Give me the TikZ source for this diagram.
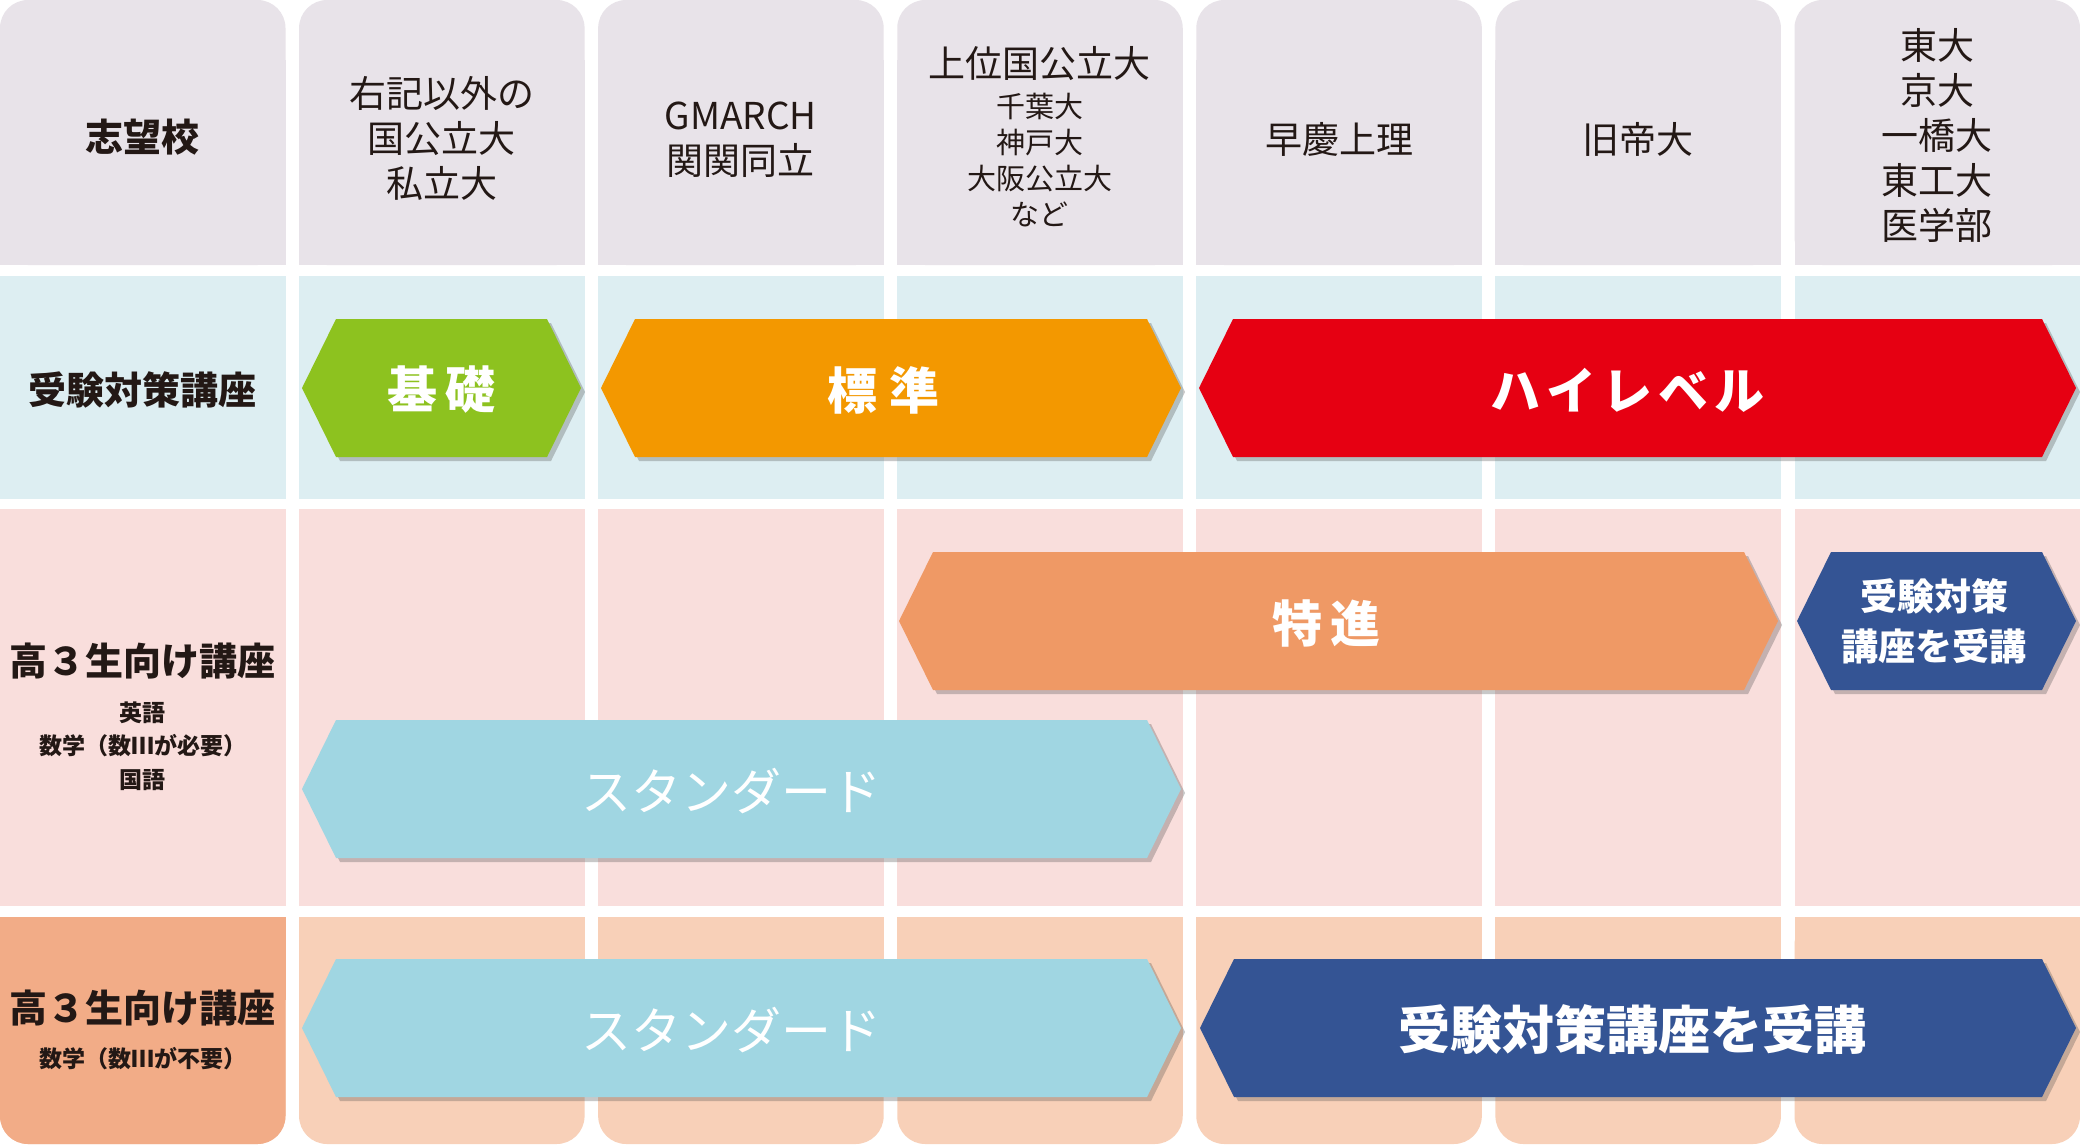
\documentclass[tikz,border=0pt]{standalone}
\usepackage{fontspec}
\setmainfont{Noto Sans CJK JP}
\usetikzlibrary{shadows}
\definecolor{hdr}{HTML}{E8E3E9}
\definecolor{rowB}{HTML}{DDEEF2}
\definecolor{rowP}{HTML}{F9DEDC}
\definecolor{rowO}{HTML}{F8D0B8}
\definecolor{rowOd}{HTML}{F2AC87}
\definecolor{ink}{HTML}{231815}
\definecolor{cGreen}{HTML}{8DC21F}
\definecolor{cOrange}{HTML}{F39800}
\definecolor{cRed}{HTML}{E60012}
\definecolor{cSalmon}{HTML}{EF9965}
\definecolor{cNavy}{HTML}{345494}
\definecolor{cSky}{HTML}{A0D6E2}
\newcommand\hexa[4]{%
  \fill[#4, hexshadow] (#1,#3) -- ({#1+34},{#3-69}) -- ({#2-34},{#3-69}) -- (#2,#3)
    -- ({#2-34},{#3+69}) -- ({#1+34},{#3+69}) -- cycle;}
\begin{document}
\begin{tikzpicture}[x=1pt,y=-1pt,
  hexshadow/.style={drop shadow={shadow xshift=4pt,shadow yshift=-4pt,opacity=0.3,fill=black!70}},
  hdrt/.style={font=\fontsize{37}{45}\selectfont, text=ink, align=center, inner sep=0pt},
  hdrs/.style={font=\fontsize{29}{36}\selectfont, text=ink, align=center, inner sep=0pt},
  lab/.style={font=\bfseries\fontsize{38}{44}\selectfont, text=ink, align=center, inner sep=0pt},
  labs/.style={font=\bfseries\fontsize{23}{33.5}\selectfont, text=ink, align=center, inner sep=0pt},
  arrt/.style={font=\bfseries\fontsize{50}{60}\selectfont, text=white, align=center, inner sep=0pt},
  arrb/.style={font=\bfseries\fontsize{52}{60}\selectfont, text=white, align=center, inner sep=0pt},
  arrl/.style={font=\fontsize{50}{60}\selectfont, text=white, align=center, inner sep=0pt},
  arrs/.style={font=\bfseries\fontsize{37}{50}\selectfont, text=white, align=center, inner sep=0pt}]
\fill[white] (0,0) rectangle (2080,1144);
\useasboundingbox (0,0) rectangle (2080,1144);
% cells
\foreach \i in {0,...,6}{
  \pgfmathsetmacro\xl{\i*299.08}
  \pgfmathsetmacro\xr{\xl+285.5}
  \fill[hdr, rounded corners=28] (\xl,0) rectangle (\xr,265);
  \fill[hdr] (\xl,60) rectangle (\xr,265);
  \fill[rowB] (\xl,276) rectangle (\xr,499);
  \fill[rowP] (\xl,509) rectangle (\xr,906);
  \fill[rowO, rounded corners=28] (\xl,917) rectangle (\xr,1144);
  \fill[rowO] (\xl,917) rectangle (\xr,1000);
}
\fill[rowOd, rounded corners=28] (0,917) rectangle (285.5,1144);
\fill[rowOd] (0,917) rectangle (285.5,1000);
% header texts
\node[lab] (h0) at (142.5,137) {志望校};
\node[hdrt] (h1) at (441.75,138) {右記以外の\\国公立大\\私立大};
\node[hdrt] (h2) at (740.8,140) {GMARCH\\関関同立};
\node[hdrt] (h3a) at (1039.9,64) {上位国公立大};
\node[hdrs] (h3b) at (1039.9,160) {千葉大\\神戸大\\大阪公立大\\など};
\node[hdrt] (h4) at (1339,139) {早慶上理};
\node[hdrt] (h5) at (1638,139) {旧帝大};
\node[hdrt] (h6) at (1937.25,135) {東大\\京大\\一橋大\\東工大\\医学部};
% row labels
\node[lab] (r1) at (142.5,390) {受験対策講座};
\node[lab] (r2) at (142.5,661) {高３生向け講座};
\node[labs] (r2s) at (142.5,746) {英語\\数学（数Ⅲが必要）\\国語};
\node[lab] (r3) at (142.5,1008) {高３生向け講座};
\node[labs] (r3s) at (142.5,1059) {数学（数Ⅲが不要）};
% arrows
\hexa{302}{581}{388}{cGreen}
\node[arrt] (kiso) at (441,390) {基\hspace{8pt}礎};
\hexa{601}{1181}{388}{cOrange}
\node[arrt] (hyojun) at (883,390) {標\hspace{12pt}準};
\hexa{1199}{2076}{388}{cRed}
\node[arrt] (high) at (1627,390) {ハ\hspace{6pt}イ\hspace{6pt}レ\hspace{6pt}ベ\hspace{6pt}ル};
\hexa{899}{1778}{621}{cSalmon}
\node[arrt] (tokushin) at (1326,623) {特\hspace{8pt}進};
\hexa{1797}{2076}{621}{cNavy}
\node[arrs] (jukenS) at (1934,621) {受験対策\\講座を受講};
\hexa{302}{1181}{789}{cSky}
\node[arrl] (std1) at (731,791) {スタンダード};
\hexa{302}{1181}{1028}{cSky}
\node[arrl] (std2) at (731,1030) {スタンダード};
\hexa{1200}{2076}{1028}{cNavy}
\node[arrb] (jukenL) at (1632,1030) {受験対策講座を受講};
\end{tikzpicture}
\end{document}
